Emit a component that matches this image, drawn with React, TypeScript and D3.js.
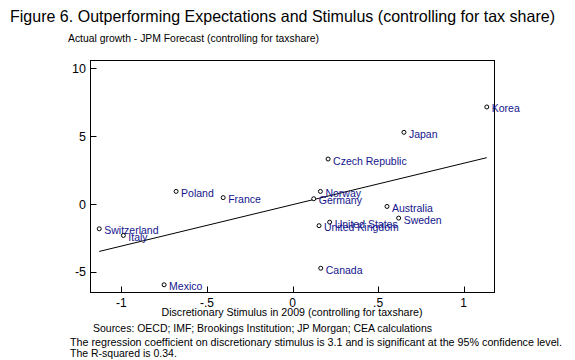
import React from "react";
import * as d3 from "d3";

const countries = ["Korea", "Japan", "Czech Republic", "Norway", "Germany", "Australia", "Sweden", "United States", "United Kingdom", "Canada", "Poland", "France", "Switzerland", "Italy", "Mexico"];
const stimulus = [1.135, 0.651, 0.208, 0.163, 0.124, 0.552, 0.62, 0.217, 0.155, 0.165, -0.68, -0.405, -1.129, -0.988, -0.75];
const growthGap = [7.16, 5.29, 3.32, 0.93, 0.39, -0.18, -1.04, -1.34, -1.6, -4.74, 0.93, 0.47, -1.83, -2.32, -5.96];
const fitX = [-1.129, 1.135];
const fitY = [-3.5, 3.42];
const xTicks = [-1, -0.5, 0, 0.5, 1];
const xTickLabels = ["-1", "-.5", "0", ".5", "1"];
const yTicks = [-5, 0, 5, 10];
const yTickLabels = ["-5", "0", "5", "10"];

const title = "Figure 6. Outperforming Expectations and Stimulus (controlling for tax share)";
const yTitle = "Actual growth - JPM Forecast (controlling for taxshare)";
const xTitle = "Discretionary Stimulus in 2009 (controlling for taxshare)";
const sources = "Sources: OECD; IMF; Brookings Institution; JP Morgan; CEA calculations";
const note1 = "The regression coefficient on discretionary stimulus is 3.1 and is significant at the 95% confidence level.";
const note2 = "The R-squared is 0.34.";

export default function App() {
  const W = 575, H = 360;
  const left = 90.5, right = 494.5, top = 60.5, bottom = 292.5;
  const x = d3.scaleLinear().domain([-1.18, 1.18]).range([left, right]);
  const y = d3.scaleLinear().domain([-6.53, 10.59]).range([bottom, top]);
  const font = "Arial, 'Liberation Sans', sans-serif";
  const labelColor = "#14148c";
  const line = d3.line<number>().x((_, i) => x(fitX[i])).y((d) => y(d));

  return (
    <svg width={W} height={H} style={{ position: "absolute", left: 0, top: 0, background: "#fff" }} fontFamily={font}>
      <rect x={0} y={0} width={W} height={H} fill="#fff" />
      <text x={10} y={22} fontSize={16.5} textLength={545} lengthAdjust="spacingAndGlyphs" fill="#000">{title}</text>
      <text x={68} y={42} fontSize={10} textLength={251} lengthAdjust="spacingAndGlyphs" fill="#000">{yTitle}</text>
      <rect x={left} y={top} width={right - left} height={bottom - top} fill="none" stroke="#000" strokeWidth={1} />
      {yTicks.map((t, i) => (
        <g key={"y" + i}>
          <line x1={left} x2={left + 6} y1={Math.round(y(t)) + 0.5} y2={Math.round(y(t)) + 0.5} stroke="#000" />
          <text x={86} y={y(t) + 4.5} fontSize={12.5} textAnchor="end" fill="#000">{yTickLabels[i]}</text>
        </g>
      ))}
      {xTicks.map((t, i) => (
        <g key={"x" + i}>
          <line x1={Math.round(x(t)) + 0.5} x2={Math.round(x(t)) + 0.5} y1={bottom} y2={bottom - 6} stroke="#000" />
          <text x={x(t)} y={307} fontSize={12} textAnchor="middle" fill="#000">{xTickLabels[i]}</text>
        </g>
      ))}
      <path d={line(fitY) || ""} fill="none" stroke="#000" strokeWidth={1} />
      {countries.map((c, i) => (
        <g key={c}>
          <circle cx={x(stimulus[i])} cy={y(growthGap[i])} r={2} fill="#fff" stroke="#000" strokeWidth={1} />
          <text x={x(stimulus[i]) + 5} y={y(growthGap[i]) + 5.5} fontSize={10.5} fill={labelColor}>{c}</text>
        </g>
      ))}
      <text x={292} y={316} fontSize={10.5} textAnchor="middle" textLength={261} lengthAdjust="spacingAndGlyphs" fill="#000">{xTitle}</text>
      <text x={93} y={331.5} fontSize={10.5} textLength={339} lengthAdjust="spacingAndGlyphs" fill="#000">{sources}</text>
      <text x={70} y={345.5} fontSize={10.5} textLength={492} lengthAdjust="spacingAndGlyphs" fill="#000">{note1}</text>
      <text x={70} y={356.5} fontSize={10.5} fill="#000">{note2}</text>
    </svg>
  );
}
